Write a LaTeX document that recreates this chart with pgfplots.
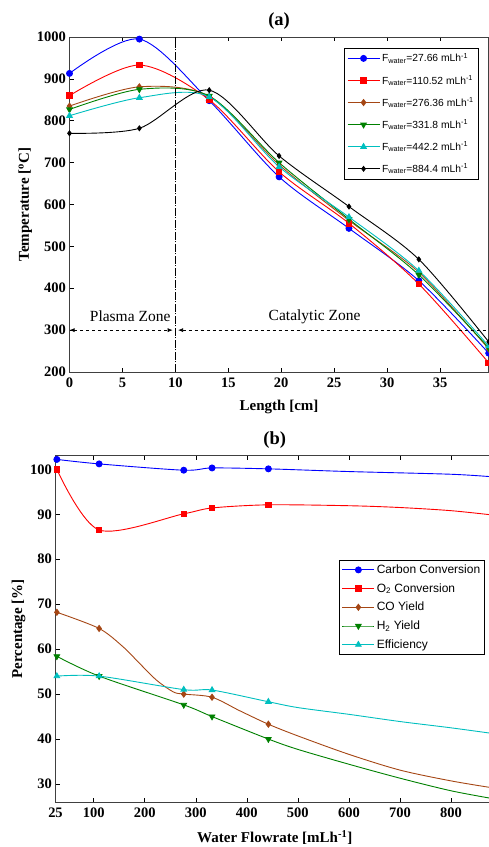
\documentclass[border=0pt]{standalone}
\usepackage{fontspec}
\setmainfont{Liberation Serif}
\newfontfamily\arialfont{Liberation Sans}
\usepackage{pgfplots}
\pgfplotsset{compat=1.18}
\usetikzlibrary{arrows.meta}

\definecolor{cblue}{RGB}{0,0,255}
\definecolor{cred}{RGB}{255,0,0}
\definecolor{cbrown}{RGB}{165,70,20}
\definecolor{cgreen}{RGB}{0,128,0}
\definecolor{ccyan}{RGB}{0,191,191}

\pgfplotsset{
  common/.style={
    scale only axis,
    anchor=south west,
    axis line style={line width=0.9pt, black!75},
    tick style={black, line width=0.6pt},
    tick align=inside,
    major tick length=4pt,
    xtick pos=both, ytick pos=left,
    tick label style={font=\fontsize{14.5}{15}\selectfont\bfseries},
    xticklabel style={yshift=-2pt},
    label style={font=\bfseries\fontsize{15}{16}\selectfont},
    title style={font=\bfseries\fontsize{18.5}{19}\selectfont},
    legend cell align=left,
    legend image code/.code={%
      \draw[mark indices={2}]
        plot coordinates {(0pt,0pt) (16pt,0pt) (32pt,0pt)};},
    every axis plot/.append style={line width=0.9pt, smooth},
  },
}

\begin{document}
\begin{tikzpicture}
\useasboundingbox (0pt,0pt) rectangle (488pt,847pt);

% ---------------- (a) temperature profile along the reactor
\begin{axis}[common,
  at={(69.5pt,475pt)}, width=419.2pt, height=335pt,
  xmin=0, xmax=39.6, ymin=200, ymax=1000,
  xtick={0,5,10,15,20,25,30,35},
  xticklabels={0,5,10,15,20,25,30,35},
  ytick={200,300,400,500,600,700,800,900,1000},
  yticklabels={200,300,400,500,600,700,800,900,1000},
  title={(a)}, title style={yshift=-2pt},
  xlabel={Length [cm]}, ylabel={Temperature [\textsuperscript{o}C]},
  xlabel style={yshift=-6pt}, ylabel style={yshift=-2pt},
  legend style={at={(0.977,0.967)}, anchor=north east,
    font=\arialfont\fontsize{10.3}{12}\selectfont,
    draw=black, line width=0.6pt, inner sep=3pt,
    row sep=8pt},
]
\addplot[cblue, mark=*, mark size=3pt, mark options={solid,fill=cblue}]
  coordinates {(0,913) (6.6,995) (13.2,848) (19.8,666) (26.4,543) (33,418) (39.6,245)};
\addlegendentry{F\textsubscript{water}=27.66 mLh\textsuperscript{-1}}
\addplot[cred, mark=square*, mark size=2.8pt, mark options={solid,fill=cred}]
  coordinates {(0,860) (6.6,933) (13.2,850) (19.8,678) (26.4,555) (33,410) (39.6,222)};
\addlegendentry{F\textsubscript{water}=110.52 mLh\textsuperscript{-1}}
\addplot[cbrown, mark=diamond*, mark size=3pt, mark options={solid,fill=cbrown}]
  coordinates {(0,835) (6.6,881) (13.2,858) (19.8,695) (26.4,562) (33,438) (39.6,255)};
\addlegendentry{F\textsubscript{water}=276.36 mLh\textsuperscript{-1}}
\addplot[cgreen, mark=triangle*, mark size=3.2pt, mark options={solid,fill=cgreen,rotate=180}]
  coordinates {(0,827) (6.6,875) (13.2,859) (19.8,700) (26.4,565) (33,432) (39.6,258)};
\addlegendentry{F\textsubscript{water}=331.8 mLh\textsuperscript{-1}}
\addplot[ccyan, mark=triangle*, mark size=3.2pt, mark options={solid,fill=ccyan}]
  coordinates {(0,812) (6.6,855) (13.2,857) (19.8,690) (26.4,570) (33,442) (39.6,262)};
\addlegendentry{F\textsubscript{water}=442.2 mLh\textsuperscript{-1}}
\addplot[black, mark=diamond*, mark size=2.4pt, mark options={solid,fill=black}]
  coordinates {(0,770) (6.6,782) (13.2,873) (19.8,716) (26.4,595) (33,469) (39.6,272)};
\addlegendentry{F\textsubscript{water}=884.4 mLh\textsuperscript{-1}}

% zone boundary and zone annotations
\draw[black, line width=0.8pt, dash pattern=on 8pt off 1.5pt on 1pt off 1.5pt]
  (axis cs:10,200) -- (axis cs:10,1000);
\draw[black, line width=0.7pt, dashed, {Latex[length=5pt,width=4pt]}-{Latex[length=5pt,width=4pt]}]
  (axis cs:0,300) -- (axis cs:9.75,300);
\draw[black, line width=0.7pt, dashed, {Latex[length=5pt,width=4pt]}-]
  (axis cs:10.25,300) -- (axis cs:39.6,300);
\node[font=\fontsize{15.5}{16}\selectfont] at (axis cs:5.73,333) {Plasma Zone};
\node[font=\fontsize{15.5}{16}\selectfont] at (axis cs:23.15,333) {Catalytic Zone};
\end{axis}

% ---------------- (b) performance versus water flow rate
% curves pass through the measured points (marked) and follow the fitted trend between them
\begin{axis}[common,
  at={(55.5pt,45pt)}, width=438.5pt, height=346.5pt,
  xmin=25, xmax=884.4, ymin=26, ymax=103.07,
  xtick={25,100,200,300,400,500,600,700,800},
  xticklabels={25,100,200,300,400,500,600,700,800},
  ytick={30,40,50,60,70,80,90,100},
  yticklabels={30,40,50,60,70,80,90,100},
  title={(b)}, title style={yshift=-2pt},
  xlabel={Water Flowrate [mLh\textsuperscript{-1}]}, ylabel={Percentage [\%]},
  xlabel style={yshift=-6pt}, ylabel style={yshift=-2pt},
  legend style={at={(0.9795,0.6984)}, anchor=north east,
    font=\arialfont\fontsize{12}{13}\selectfont,
    draw=black, line width=0.6pt, inner sep=2.5pt,
    row sep=4.5pt},
]
\addplot[cblue, mark=*, mark size=3pt, mark options={solid,fill=cblue},
  mark indices={1,2,3,4,5,8}]
  coordinates {(27.66,102.2) (110.52,101.2) (276.36,99.8) (331.8,100.3) (442.2,100.1)
               (600,99.5) (800,98.9) (884.4,98.3)};
\addlegendentry{Carbon Conversion}
\addplot[cred, mark=square*, mark size=2.8pt, mark options={solid,fill=cred},
  mark indices={1,2,3,4,5,9}]
  coordinates {(27.66,100.0) (110.52,86.5) (276.36,90.1) (331.8,91.4) (442.2,92.1)
               (600,91.9) (700,91.5) (800,90.8) (884.4,89.8)};
\addlegendentry{O\textsubscript{2} Conversion}
\addplot[cbrown, mark=diamond*, mark size=3pt, mark options={solid,fill=cbrown},
  mark indices={1,2,7,8,10,15}]
  coordinates {(27.66,68.2) (110.52,64.6) (157.6,60.5) (190,56.8) (223,53.1) (255.6,50.5)
               (276.36,50.0) (331.8,49.3) (386,46.3) (442.2,43.3)
               (500,40.7) (600,36.6) (700,33.1) (800,30.7) (884.4,29.1)};
\addlegendentry{CO Yield}
\addplot[cgreen, mark=triangle*, mark size=3.2pt, mark options={solid,fill=cgreen,rotate=180},
  mark indices={1,2,3,4,5,10}]
  coordinates {(27.66,58.4) (110.52,54.0) (276.36,47.6) (331.8,45.0) (442.2,40.0)
               (500,37.7) (600,34.4) (700,31.3) (800,28.5) (884.4,26.7)};
\addlegendentry{H\textsubscript{2} Yield}
\addplot[ccyan, mark=triangle*, mark size=3.2pt, mark options={solid,fill=ccyan},
  mark indices={1,2,3,4,5,10}]
  coordinates {(27.66,54.0) (110.52,54.0) (276.36,51.0) (331.8,50.9) (442.2,48.3)
               (500,47.0) (600,45.5) (700,43.9) (800,42.5) (884.4,41.2)};
\addlegendentry{Efficiency}
\end{axis}
\end{tikzpicture}
\end{document}
